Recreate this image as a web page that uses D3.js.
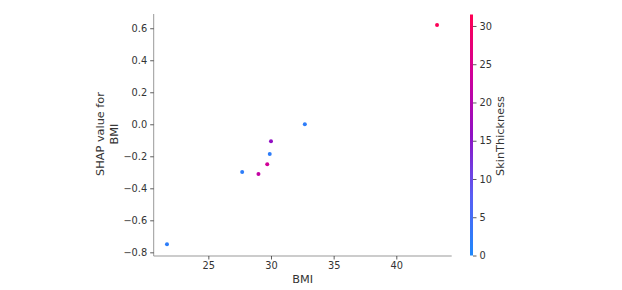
<!DOCTYPE html>
<html>
<head>
<meta charset="utf-8">
<script src="https://cdn.jsdelivr.net/npm/d3@7"></script>
<style>
  body { margin: 0; background: #fff; }
  text { font-family: "DejaVu Sans", sans-serif; fill: #333; }
</style>
</head>
<body>
<div id="graph"></div>
<script>
// data
var bmi  = [43.25, 32.7, 30.0, 29.9, 29.7, 27.7, 29.0, 21.7];
var shap = [0.62, 0.0, -0.106, -0.186, -0.25, -0.298, -0.31, -0.75];
var skin = [31, 2, 16, 2, 24, 2, 22, 2];
var xTicks = [25, 30, 35, 40];
var yTicks = [0.6, 0.4, 0.2, 0.0, -0.2, -0.4, -0.6, -0.8];
var cTicks = [0, 5, 10, 15, 20, 25, 30];

var points = bmi.map(function(d, i){ return {bmi: d, shap: shap[i], skin: skin[i]}; });

var width = 622, height = 290;
var mLeft = 153.7, mRight = 451.7, mTop = 14, mBottom = 256;
var tickSize = '9.8px', labelSize = '11.3px';

var svg = d3.select('#graph').append('svg')
  .attr('width', width).attr('height', height);

var x = d3.scaleLinear().domain([20.64, 44.42]).range([mLeft, mRight]);
var y = d3.scaleLinear().domain([-0.823, 0.689]).range([mBottom, mTop]);

// shap red_blue colormap, approximated piecewise through purple
var cmap = d3.piecewise(d3.interpolateRgb, ['#1e88fb', '#5a5ef4', '#9010c4', '#d0009a', '#ff0052']);
var color = d3.scaleSequential(cmap).domain([0, 31.5]);

// axes
var xAxis = svg.append('g')
  .attr('transform', 'translate(0,' + mBottom + ')')
  .call(d3.axisBottom(x).tickValues(xTicks).tickSize(3.5).tickPadding(3));
var yAxis = svg.append('g')
  .attr('transform', 'translate(' + mLeft + ',0)')
  .call(d3.axisLeft(y).tickValues(yTicks).tickSize(3.5).tickPadding(3)
    .tickFormat(function(d){ return d3.format('.1f')(d).replace('-', '\u2212'); }));

[xAxis, yAxis].forEach(function(a){
  a.select('.domain').attr('stroke', '#999').attr('stroke-width', 1);
  a.selectAll('.tick line').attr('stroke', '#333').attr('stroke-width', 0.8);
  a.selectAll('.tick text').style('font-size', tickSize).attr('fill', '#333');
});
xAxis.select('.domain').attr('d', 'M' + mLeft + ',0H' + mRight);
yAxis.select('.domain').attr('d', 'M0,' + mTop + 'V' + mBottom);

// axis labels
svg.append('text')
  .attr('x', (mLeft + mRight) / 2).attr('y', 283)
  .attr('text-anchor', 'middle').style('font-size', labelSize)
  .text('BMI');

var yl = svg.append('text')
  .attr('transform', 'translate(104,134) rotate(-90)')
  .attr('text-anchor', 'middle').style('font-size', labelSize);
yl.append('tspan').attr('x', 0).attr('dy', 0).text('SHAP value for');
yl.append('tspan').attr('x', 0).attr('dy', 13.5).text('BMI');

// points
svg.append('g').selectAll('circle')
  .data(points).enter().append('circle')
  .attr('cx', function(d){ return x(d.bmi); })
  .attr('cy', function(d){ return y(d.shap); })
  .attr('r', 2)
  .attr('fill', function(d){ return color(d.skin); });

// colorbar
var cb = d3.scaleLinear().domain([0, 31.5]).range([255.5, 14.5]);
var defs = svg.append('defs');
var grad = defs.append('linearGradient').attr('id', 'cbar')
  .attr('x1', 0).attr('y1', 1).attr('x2', 0).attr('y2', 0);
d3.range(0, 1.0001, 0.05).forEach(function(t){
  grad.append('stop').attr('offset', t).attr('stop-color', cmap(t));
});
svg.append('rect')
  .attr('x', 470).attr('y', cb(31.5)).attr('width', 3)
  .attr('height', cb(0) - cb(31.5))
  .attr('fill', 'url(#cbar)');

var cAxis = svg.append('g')
  .attr('transform', 'translate(473,0)')
  .call(d3.axisRight(cb).tickValues(cTicks).tickSize(3.5).tickPadding(3));
cAxis.select('.domain').remove();
cAxis.selectAll('.tick line').attr('stroke', '#333').attr('stroke-width', 0.8);
cAxis.selectAll('.tick text').style('font-size', tickSize).attr('fill', '#333');

svg.append('text')
  .attr('transform', 'translate(504,136) rotate(-90)')
  .attr('text-anchor', 'middle').style('font-size', labelSize)
  .text('SkinThickness');
</script>
</body>
</html>
